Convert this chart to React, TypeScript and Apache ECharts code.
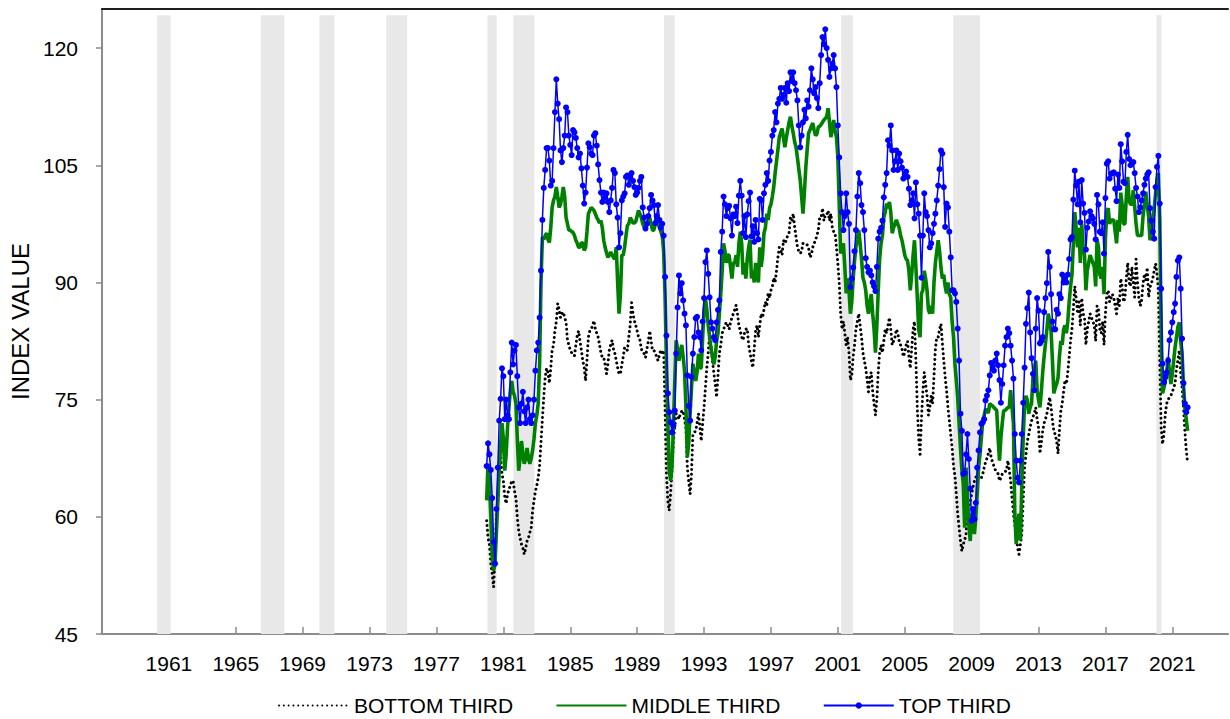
import React, { useEffect, useRef } from "react";
import * as echarts from "echarts";

const START_YEAR = 1980; // first monthly observation: January 1980
const AXIS_START = 1957;
const AXIS_END = 2024.33;
const TICK_YEARS = [1961, 1965, 1969, 1973, 1977, 1981, 1985, 1989, 1993, 1997, 2001, 2005, 2009, 2013, 2017, 2021];
const Y_TICKS = [45, 60, 75, 90, 105, 120];
const SERIES_NAMES = ["BOTTOM THIRD", "MIDDLE THIRD", "TOP THIRD"];

const RECESSIONS: [number, number][] = [
  [1960.3, 1961.1], [1966.5, 1967.9], [1970.0, 1970.9], [1974.0, 1975.25],
  [1980.05, 1980.6], [1981.6, 1982.85], [1990.6, 1991.25], [2001.2, 2001.9],
  [2007.9, 2009.5], [2020.05, 2020.35],
];

// monthly values, Jan 1980 - Dec 2021 (one row per year)
const BOTTOM_THIRD = [
  59.5, 57.3, 56.5, 54.0, 52.7, 51.0, 54.5, 59.9, 62.4, 65.5, 67.6, 65.5,
  64.6, 62.5, 61.7, 62.9, 63.5, 64.0, 64.6, 64.6, 63.3, 62.4, 59.9, 58.2,
  57.3, 56.5, 56.0, 55.2, 56.0, 56.9, 57.3, 58.0, 58.6, 60.8, 62.1, 63.3,
  64.0, 65.0, 66.5, 69.5, 72.5, 75.3, 77.8, 79.0, 78.5, 77.1, 79.0, 81.3,
  82.0, 83.8, 85.0, 87.3, 86.5, 85.5, 86.0, 86.2, 85.5, 84.9, 82.6, 82.0,
  81.3, 81.0, 80.8, 80.6, 82.0, 83.2, 83.8, 82.5, 81.3, 80.0, 79.1, 77.4,
  80.0, 83.0, 83.8, 84.0, 84.5, 85.1, 84.0, 83.5, 83.0, 82.0, 81.0, 80.4,
  80.4, 79.5, 78.3, 79.5, 81.3, 82.0, 82.6, 81.5, 80.9, 80.0, 79.1, 78.3,
  78.3, 79.5, 80.5, 81.7, 81.5, 81.3, 83.0, 84.5, 87.4, 86.0, 85.1, 84.5,
  83.8, 83.0, 82.6, 81.5, 81.0, 80.9, 80.4, 81.5, 82.5, 83.8, 82.5, 81.3,
  81.3, 81.0, 80.4, 80.0, 80.8, 81.3, 81.0, 81.3, 74.0, 65.5, 62.0, 60.8,
  62.9, 66.0, 69.7, 71.5, 73.2, 73.0, 72.5, 73.2, 73.5, 73.6, 72.5, 71.4,
  66.3, 64.5, 62.9, 65.5, 70.6, 70.8, 71.0, 72.0, 73.2, 71.5, 69.7, 72.0,
  74.0, 76.5, 79.1, 81.0, 83.5, 82.0, 80.0, 78.5, 77.0, 75.3, 78.0, 80.9,
  82.0, 83.5, 84.0, 84.5, 84.9, 84.5, 84.0, 84.9, 85.5, 86.0, 86.5, 87.1,
  86.0, 84.5, 83.8, 83.0, 82.6, 83.5, 84.0, 84.1, 82.0, 81.0, 80.0, 79.1,
  81.5, 83.8, 84.5, 83.0, 84.5, 86.0, 85.5, 86.5, 87.5, 87.0, 88.6, 88.0,
  89.0, 89.4, 90.6, 90.0, 91.5, 93.2, 94.5, 94.1, 93.5, 95.4, 95.0, 95.4,
  96.0, 96.3, 98.3, 97.9, 98.8, 97.1, 95.8, 94.5, 94.0, 93.7, 94.0, 95.0,
  95.0, 95.0, 94.8, 94.4, 93.2, 93.5, 94.5, 95.0, 95.4, 96.0, 96.7, 98.3,
  98.3, 99.5, 97.9, 98.6, 98.6, 99.2, 97.9, 98.8, 97.1, 96.5, 96.3, 94.5,
  92.4, 89.9, 86.0, 84.0, 85.0, 83.5, 82.0, 83.0, 81.0, 77.5, 78.0, 80.5,
  82.0, 84.0, 85.0, 86.0, 84.5, 83.0, 81.0, 80.0, 79.0, 77.5, 76.0, 78.0,
  78.5, 76.0, 74.5, 73.0, 75.0, 78.5, 81.0, 82.0, 81.0, 82.5, 84.0, 83.5,
  84.5, 85.5, 84.0, 82.0, 82.5, 83.0, 84.0, 83.5, 82.5, 82.0, 81.5, 80.5,
  81.0, 82.0, 82.5, 80.5, 79.0, 81.5, 84.0, 85.0, 80.0, 74.0, 70.0, 68.0,
  72.5, 76.0, 78.5, 77.0, 75.5, 73.0, 74.0, 75.5, 74.5, 78.0, 81.5, 83.0,
  83.0, 84.0, 84.7, 82.2, 80.0, 77.9, 76.2, 74.0, 72.3, 70.5, 68.8, 66.5,
  65.3, 62.9, 60.4, 58.6, 56.9, 55.6, 56.5, 57.0, 57.8, 60.4, 61.5, 62.0,
  62.9, 63.8, 64.6, 65.0, 65.5, 65.3, 65.2, 65.0, 65.5, 66.3, 67.0, 67.5,
  68.1, 68.8, 67.6, 67.0, 66.5, 66.0, 65.8, 65.5, 64.6, 65.0, 65.5, 65.7,
  65.8, 65.9, 67.2, 66.0, 64.6, 62.4, 60.4, 59.0, 57.8, 56.0, 55.2, 56.5,
  57.8, 62.1, 66.3, 68.0, 69.7, 70.5, 71.5, 72.3, 72.8, 73.2, 74.0, 72.5,
  71.4, 68.1, 69.5, 71.0, 72.0, 72.5, 73.2, 74.2, 75.3, 74.0, 72.3, 71.0,
  70.5, 69.7, 68.1, 71.0, 73.5, 74.5, 76.0, 77.5, 77.0, 78.5, 80.5, 82.5,
  84.0, 86.5, 89.5, 88.0, 86.0, 87.5, 84.5, 88.0, 86.0, 85.5, 82.0, 84.0,
  85.0, 86.0, 85.5, 85.0, 84.5, 82.5, 87.0, 86.5, 84.0, 83.5, 85.0, 82.0,
  86.0, 88.5, 89.0, 87.5, 88.0, 88.5, 88.0, 87.0, 86.0, 88.0, 87.0, 90.5,
  89.5, 87.5, 88.0, 90.5, 92.5, 90.0, 89.5, 92.0, 89.9, 88.1, 93.0, 90.0,
  88.0, 87.0, 87.7, 89.9, 91.1, 90.3, 91.9, 88.1, 89.4, 89.9, 90.5, 91.5,
  92.4, 91.1, 89.0, 80.0, 71.4, 69.3, 70.6, 73.2, 74.5, 75.0, 75.3, 75.5,
  76.0, 76.5, 77.1, 79.0, 80.0, 81.3, 78.3, 76.5, 74.0, 71.0, 68.5, 66.9,
];

const MIDDLE_THIRD = [
  62.1, 66.8, 64.5, 60.0, 55.0, 53.1, 54.0, 58.0, 61.7, 66.0, 69.0, 72.0,
  70.0, 65.9, 68.0, 71.5, 74.0, 76.2, 77.4, 76.0, 75.5, 74.5, 70.0, 65.9,
  67.5, 69.7, 68.0, 66.8, 67.5, 68.8, 67.5, 66.8, 67.5, 68.5, 70.0, 72.0,
  73.0, 74.5, 79.6, 90.0, 95.8, 95.5, 96.0, 96.3, 95.5, 95.1, 97.0, 99.6,
  100.5, 101.0, 102.2, 101.0, 99.6, 100.0, 101.0, 102.2, 101.0, 98.3, 97.5, 96.7,
  96.7, 96.5, 96.4, 96.0, 95.4, 95.0, 94.5, 94.5, 95.1, 95.0, 94.1, 94.5,
  96.5, 98.8, 99.2, 99.6, 99.4, 99.2, 98.8, 98.3, 98.0, 97.6, 97.9, 97.0,
  95.4, 94.5, 93.8, 93.2, 93.5, 93.9, 93.5, 93.2, 93.0, 94.5, 90.0, 86.0,
  88.5, 93.5, 93.5, 94.5, 96.0, 97.3, 97.5, 98.3, 98.0, 97.6, 97.6, 97.8,
  98.5, 99.2, 98.8, 98.3, 97.5, 97.1, 97.0, 97.5, 98.0, 98.3, 97.5, 96.7,
  96.7, 97.5, 98.3, 97.5, 97.0, 96.5, 96.0, 94.0, 88.5, 80.0, 72.0, 66.0,
  64.6, 66.5, 71.5, 77.4, 82.6, 81.5, 80.0, 81.0, 82.0, 80.5, 78.7, 74.0,
  67.6, 69.5, 73.2, 76.5, 79.6, 78.5, 77.4, 78.5, 80.9, 79.0, 79.1, 83.0,
  86.5, 88.0, 86.5, 84.5, 83.0, 81.5, 80.5, 79.5, 80.5, 82.5, 83.5, 86.0,
  88.5, 91.5, 95.0, 94.0, 92.5, 93.5, 93.5, 92.0, 90.5, 92.5, 92.5, 93.5,
  92.0, 95.0, 96.5, 95.0, 91.0, 92.5, 90.5, 93.0, 94.5, 95.5, 90.5, 91.5,
  90.0, 92.5, 91.0, 90.0, 94.5, 92.0, 93.5, 96.3, 97.0, 98.8, 98.0, 99.5,
  100.0, 101.0, 102.2, 104.0, 105.5, 107.0, 108.6, 109.2, 109.7, 108.5, 107.3, 108.5,
  109.5, 110.5, 111.2, 110.0, 109.1, 108.0, 107.3, 106.0, 104.5, 103.1, 101.0, 98.8,
  101.5, 104.7, 107.0, 109.1, 109.5, 110.0, 110.4, 109.5, 108.8, 109.0, 109.9, 110.0,
  110.2, 110.5, 110.8, 111.0, 111.2, 112.3, 110.5, 108.6, 109.5, 110.8, 109.5, 108.6,
  106.0, 100.0, 93.7, 94.5, 95.0, 92.0, 88.6, 90.5, 89.0, 86.0, 87.5, 90.5,
  92.8, 94.5, 95.5, 96.7, 95.0, 93.0, 90.6, 90.0, 89.0, 87.0, 86.0, 87.5,
  88.5, 86.0, 84.0, 81.0, 84.5, 89.0, 93.0, 95.0, 96.0, 98.3, 99.0, 100.1,
  99.5, 100.3, 99.0, 96.3, 97.0, 97.5, 98.0, 97.5, 97.0, 96.0, 95.4, 94.5,
  93.5, 93.0, 92.8, 91.5, 89.0, 91.0, 93.5, 95.4, 92.0, 88.1, 84.0, 83.0,
  88.6, 89.0, 91.5, 90.5, 89.0, 86.5, 86.0, 87.0, 86.0, 90.0, 92.5, 94.0,
  95.4, 94.0, 91.9, 90.5, 91.0, 89.5, 88.6, 90.0, 88.5, 88.1, 85.0, 83.0,
  79.6, 77.5, 75.3, 72.0, 68.8, 66.0, 64.2, 58.6, 66.3, 62.4, 59.0, 56.9,
  60.4, 59.0, 57.8, 59.9, 63.0, 66.3, 68.0, 70.1, 72.3, 73.0, 73.8, 73.5,
  73.3, 74.5, 74.3, 74.2, 74.0, 73.8, 73.6, 70.1, 67.2, 70.1, 72.0, 73.6,
  73.6, 73.8, 74.0, 74.0, 76.2, 74.0, 71.9, 60.4, 56.5, 58.5, 60.4, 57.0,
  64.2, 70.1, 74.5, 75.5, 74.9, 73.2, 74.0, 74.5, 77.8, 79.0, 80.0, 76.2,
  75.0, 74.0, 76.0, 78.5, 80.5, 82.2, 84.0, 86.0, 85.0, 83.8, 80.0, 75.8,
  76.5, 77.0, 77.8, 80.5, 82.5, 82.0, 84.0, 84.5, 83.5, 85.0, 87.5, 89.5,
  91.0, 95.0, 99.0, 97.0, 94.5, 97.0, 92.5, 97.5, 94.5, 93.5, 89.0, 91.5,
  92.5, 93.5, 93.0, 92.5, 92.0, 89.5, 95.5, 94.5, 91.0, 90.5, 92.0, 88.5,
  95.5, 99.0, 99.5, 97.5, 98.0, 98.0, 98.0, 96.5, 95.0, 98.0, 96.5, 101.5,
  100.0, 97.5, 97.5, 101.0, 103.5, 100.5, 100.0, 100.0, 101.8, 99.7, 97.5, 96.0,
  96.0, 96.0, 96.0, 98.5, 100.0, 101.6, 100.0, 98.4, 95.4, 96.0, 98.0, 99.5,
  101.4, 103.0, 104.0, 98.0, 84.3, 75.8, 76.5, 77.4, 78.5, 80.4, 78.5, 77.0,
  78.3, 80.0, 81.7, 83.0, 84.3, 84.9, 82.5, 80.9, 77.0, 74.0, 72.5, 71.0,
];

const TOP_THIRD = [
  66.5, 69.4, 68.0, 66.0, 62.4, 56.8, 54.0, 61.0, 66.3, 72.3, 75.1, 79.0,
  78.0, 72.5, 75.0, 73.0, 72.5, 78.5, 82.3, 79.5, 81.3, 82.0, 78.0, 74.0,
  72.0, 74.5, 76.0, 73.5, 72.0, 74.0, 75.0, 72.5, 72.0, 73.0, 75.0, 78.7,
  81.3, 82.3, 85.5, 91.5, 98.0, 102.1, 104.4, 107.2, 107.2, 105.6, 102.4, 103.0,
  107.2, 111.8, 116.0, 112.9, 110.9, 106.9, 105.4, 107.2, 108.8, 112.4, 111.8, 108.8,
  107.6, 106.3, 109.5, 109.2, 108.5, 107.2, 106.0, 106.5, 104.6, 102.4, 100.1, 101.5,
  104.7, 107.8, 107.3, 106.5, 106.3, 108.8, 109.1, 107.5, 105.1, 103.1, 101.5, 100.3,
  101.5, 100.9, 101.4, 100.3, 99.0, 100.5, 102.1, 104.4, 104.0, 100.0, 98.3, 94.5,
  96.3, 100.5, 101.0, 101.4, 103.5, 103.7, 102.5, 103.5, 104.0, 103.0, 102.2, 101.2,
  101.5, 102.1, 103.0, 103.5, 99.6, 98.3, 96.9, 97.5, 98.5, 99.5, 101.2, 100.5,
  99.9, 97.6, 98.5, 99.9, 98.0, 97.0, 97.5, 96.0, 90.7, 83.2, 75.8, 73.4,
  72.1, 70.8, 71.7, 73.6, 80.9, 86.8, 90.9, 88.6, 89.9, 87.7, 86.0, 84.5,
  78.1, 74.2, 72.3, 77.9, 80.9, 83.0, 85.4, 85.6, 83.6, 83.0, 81.3, 85.0,
  88.0, 92.6, 94.1, 91.1, 88.1, 84.9, 84.1, 83.0, 82.6, 84.9, 86.5, 87.7,
  93.9, 96.5, 101.0, 100.0, 98.5, 99.5, 99.8, 98.2, 96.0, 98.7, 98.5, 99.7,
  97.6, 101.1, 103.0, 101.1, 96.3, 98.5, 95.8, 98.7, 100.4, 101.5, 95.9, 97.2,
  95.2, 98.0, 96.3, 95.5, 100.7, 100.5, 98.0, 101.4, 102.5, 104.0, 103.0, 105.6,
  106.7, 108.8, 109.5, 111.8, 110.5, 112.9, 113.5, 114.9, 113.5, 114.0, 114.9, 113.0,
  115.5, 114.5, 116.9, 115.8, 116.9, 115.5, 114.6, 113.3, 110.1, 107.3, 108.8, 110.5,
  112.1, 111.0, 113.3, 112.5, 114.6, 117.4, 116.0, 114.2, 115.0, 113.6, 112.3, 115.5,
  119.1, 121.4, 120.5, 122.4, 120.0, 118.5, 116.3, 117.4, 118.0, 119.1, 117.4, 115.0,
  110.1, 106.0, 101.4, 99.0, 96.7, 98.5, 101.4, 99.0, 97.5, 89.4, 90.5, 91.9,
  94.0, 96.7, 101.0, 104.0, 102.7, 99.9, 99.0, 96.7, 93.1, 92.0, 91.3, 91.5,
  90.9, 90.0, 89.5, 88.9, 92.0, 95.6, 96.5, 97.0, 97.9, 100.9, 102.5, 104.0,
  108.2, 107.5, 110.1, 106.9, 104.4, 105.5, 106.9, 104.4, 106.5, 105.5, 104.7, 103.3,
  103.8, 104.2, 103.5, 102.0, 99.9, 100.5, 101.4, 98.2, 102.8, 100.0, 98.8, 96.0,
  90.6, 96.0, 101.4, 99.0, 98.5, 96.7, 94.5, 95.0, 96.3, 97.5, 98.8, 100.5,
  102.4, 104.5, 106.9, 106.5, 102.2, 97.1, 100.1, 99.6, 96.5, 93.2, 89.0, 89.0,
  88.6, 87.5, 84.1, 80.0, 73.2, 71.0, 65.5, 65.6, 68.0, 70.6, 67.4, 63.6,
  59.5, 61.0, 59.7, 61.8, 66.3, 68.5, 70.8, 71.9, 72.1, 72.5, 74.9, 75.5,
  76.2, 78.1, 79.7, 79.2, 78.7, 80.0, 80.9, 79.4, 77.5, 74.6, 77.0, 79.4,
  81.9, 83.0, 84.1, 83.5, 81.9, 80.0, 77.7, 70.6, 67.2, 65.0, 64.4, 67.2,
  70.6, 74.6, 79.1, 84.7, 86.7, 88.7, 83.6, 80.3, 78.3, 76.2, 84.1, 88.0,
  86.4, 82.2, 82.5, 83.0, 86.2, 88.0, 89.9, 93.9, 92.0, 88.5, 85.0, 84.0,
  84.0, 86.5, 86.0, 88.5, 88.0, 91.0, 90.0, 90.5, 90.0, 91.0, 93.0, 95.5,
  95.8, 100.6, 104.3, 102.4, 100.0, 102.9, 97.7, 103.1, 100.1, 98.9, 94.2, 97.0,
  97.8, 99.1, 98.5, 98.2, 97.5, 95.5, 101.2, 100.0, 96.5, 96.3, 97.7, 93.7,
  100.8, 105.2, 105.5, 103.3, 103.9, 104.0, 104.1, 102.0, 100.4, 103.8, 102.1, 107.7,
  105.5, 102.9, 102.7, 106.7, 108.9, 105.8, 105.0, 105.2, 105.4, 104.0, 102.1, 101.0,
  99.0, 99.6, 100.5, 101.4, 102.5, 103.3, 103.8, 104.1, 99.5, 97.9, 96.5, 95.6,
  102.2, 104.8, 106.2, 100.1, 89.2, 79.6, 77.2, 77.9, 78.5, 80.0, 82.6, 83.6,
  84.9, 86.2, 87.3, 90.7, 92.8, 93.2, 89.2, 82.8, 77.1, 74.5, 73.4, 74.0,
];

const FONT = "'Liberation Sans', Arial, sans-serif";

function toPoints(values: number[]) {
  return values.map((v, i) => [START_YEAR + i / 12 - AXIS_START, v]);
}

export default function App() {
  const ref = useRef<HTMLDivElement>(null);

  useEffect(() => {
    if (!ref.current) return;
    const chart = echarts.init(ref.current, null, { renderer: "svg" });
    const xMax = AXIS_END - AXIS_START;
    const tickOffsets = TICK_YEARS.map((y) => y - AXIS_START);

    chart.setOption({
      animation: false,
      backgroundColor: "#ffffff",
      textStyle: { fontFamily: FONT },
      grid: { left: 102, right: 2, top: 9, bottom: 85, containLabel: false },
      legend: {
        data: [
          { name: SERIES_NAMES[0], itemStyle: { color: "rgba(0,0,0,0)", borderWidth: 0 } },
          { name: SERIES_NAMES[1], itemStyle: { color: "rgba(0,0,0,0)", borderWidth: 0 } },
          { name: SERIES_NAMES[2] },
        ],
        left: 278,
        top: 695,
        padding: 0,
        itemWidth: 70,
        itemHeight: 8,
        itemGap: 42,
        textStyle: { fontSize: 21, color: "#000", fontFamily: FONT },
        selectedMode: false,
      },
      xAxis: [
        {
          type: "value",
          min: 0,
          max: xMax,
          interval: 4,
          axisLine: { show: true, onZero: false, lineStyle: { color: "#8c8c8c", width: 2 } },
          axisTick: {
            show: true,
            inside: true,
            length: 7,
            customValues: tickOffsets,
            lineStyle: { color: "#8c8c8c", width: 1.5 },
          },
          axisLabel: {
            show: true,
            margin: 19,
            fontSize: 21,
            color: "#000",
            fontFamily: FONT,
            customValues: tickOffsets,
            formatter: (v: number) => {
              const y = Math.round(v + AXIS_START);
              return TICK_YEARS.includes(y) && Math.abs(v + AXIS_START - y) < 1e-6 ? String(y) : "";
            },
          },
          splitLine: { show: false },
        },
        {
          type: "value",
          position: "top",
          min: 0,
          max: xMax,
          axisLine: { show: true, onZero: false, lineStyle: { color: "#1e1e1e", width: 2 } },
          axisTick: { show: false },
          axisLabel: { show: false },
          splitLine: { show: false },
        },
      ],
      yAxis: {
        type: "value",
        min: 45,
        max: 125,
        interval: 15,
        name: "INDEX VALUE",
        nameLocation: "middle",
        nameGap: 68,
        nameTextStyle: { fontSize: 24, color: "#000", fontFamily: FONT },
        axisLine: { show: true, lineStyle: { color: "#8c8c8c", width: 2 } },
        axisTick: {
          show: true,
          length: 6,
          customValues: Y_TICKS,
          lineStyle: { color: "#8c8c8c", width: 1.5 },
        },
        axisLabel: {
          margin: 24,
          fontSize: 21,
          color: "#000",
          fontFamily: FONT,
          customValues: Y_TICKS,
          formatter: (v: number) => (v > 120 ? "" : String(v)),
        },
        splitLine: { show: false },
      },
      series: [
        {
          name: "recessions",
          type: "line",
          data: [],
          silent: true,
          z: 1,
          markArea: {
            silent: true,
            itemStyle: { color: "#e8e8e8" },
            data: RECESSIONS.map(([a, b]) => [
              { xAxis: a - AXIS_START, yAxis: 45 },
              { xAxis: b - AXIS_START, yAxis: 124.2 },
            ]),
          },
        },
        {
          name: SERIES_NAMES[0],
          type: "line",
          data: toPoints(BOTTOM_THIRD),
          symbol: "none",
          silent: true,
          z: 3,
          lineStyle: { color: "#000000", width: 3, type: [0.01, 4.8], cap: "round" },
          itemStyle: { color: "#000000" },
        },
        {
          name: SERIES_NAMES[1],
          type: "line",
          data: toPoints(MIDDLE_THIRD),
          symbol: "none",
          silent: true,
          z: 4,
          lineStyle: { color: "#008000", width: 3.6 },
          itemStyle: { color: "#008000" },
        },
        {
          name: SERIES_NAMES[2],
          type: "line",
          data: toPoints(TOP_THIRD),
          symbol: "circle",
          symbolSize: 6,
          showSymbol: true,
          showAllSymbol: true,
          silent: true,
          z: 5,
          lineStyle: { color: "#0000ff", width: 1.5 },
          itemStyle: { color: "#0000ff" },
        },
      ],
    });

    return () => chart.dispose();
  }, []);

  return (
    <div
      ref={ref}
      style={{ position: "fixed", left: 0, top: 0, width: 1230, height: 719, background: "#fff" }}
    />
  );
}
